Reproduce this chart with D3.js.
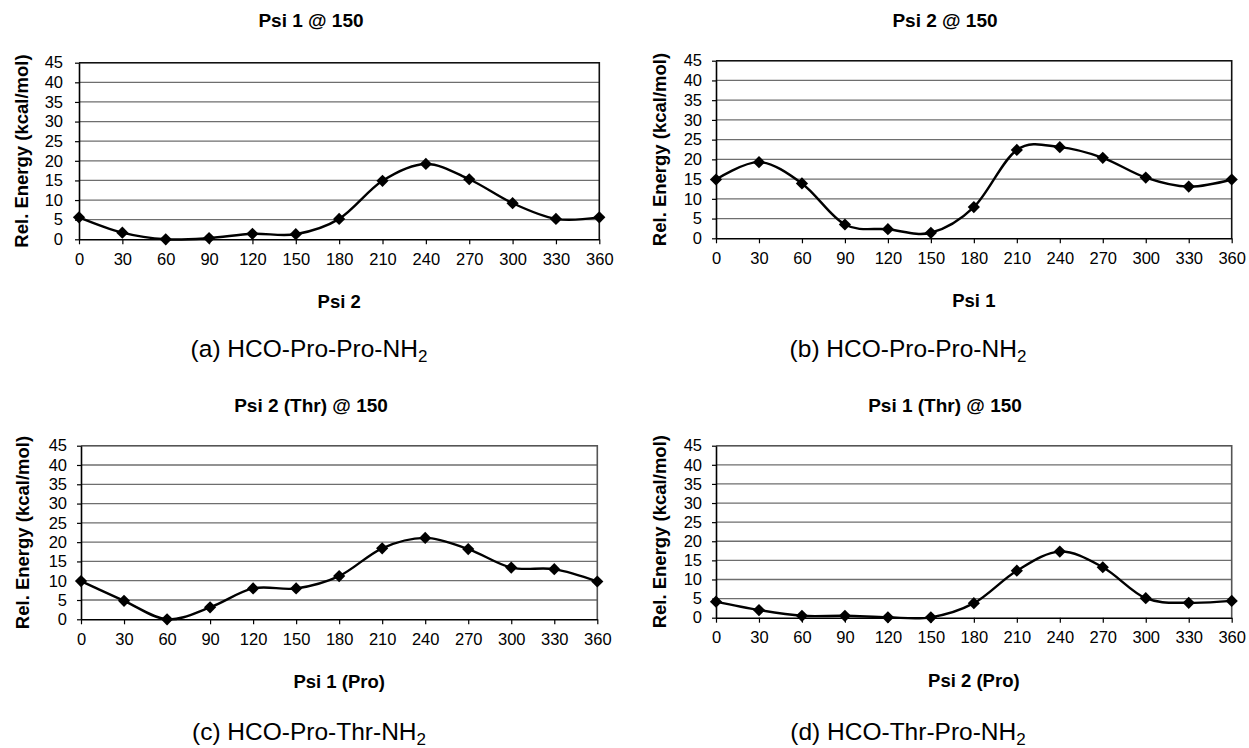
<!DOCTYPE html>
<html>
<head>
<meta charset="utf-8">
<script src="https://cdn.jsdelivr.net/npm/d3@7"></script>
<style>
  body { margin: 0; background: #fff; }
  svg { display: block; font-family: Arial, "Liberation Sans", Helvetica, sans-serif; }
  .tick-label { font-size: 16.5px; fill: #000; }
  .chart-title { font-size: 19px; font-weight: bold; }
  .axis-title { font-size: 18.5px; font-weight: bold; }
  .caption { font-size: 24.5px; }
</style>
</head>
<body>
<div id="chart"></div>
<script>
// torsion angle (deg) on x axis
var angles = [0, 30, 60, 90, 120, 150, 180, 210, 240, 270, 300, 330, 360];
var yTicks = [0, 5, 10, 15, 20, 25, 30, 35, 40, 45];

// relative energies (kcal/mol)
var energyA = [5.6, 1.7, 0, 0.3, 1.4, 1.3, 5.2, 14.9, 19.2, 15.3, 9.2, 5.2, 5.6];
var energyB = [14.9, 19.3, 13.9, 3.5, 2.3, 1.4, 7.9, 22.4, 23.1, 20.4, 15.4, 13.1, 14.9];
var energyC = [9.9, 4.8, 0, 3.1, 8.0, 8.0, 11.2, 18.4, 21.1, 18.2, 13.4, 13.0, 9.8];
var energyD = [4.2, 2.0, 0.5, 0.5, 0.1, 0.1, 3.8, 12.3, 17.3, 13.2, 5.1, 3.9, 4.4];

var titles = ["Psi 1 @ 150", "Psi 2 @ 150", "Psi 2 (Thr) @ 150", "Psi 1 (Thr) @ 150"];
var xTitles = ["Psi 2", "Psi 1", "Psi 1 (Pro)", "Psi 2 (Pro)"];
var captions = [
  ["(a) HCO-Pro-Pro-NH", "2"],
  ["(b) HCO-Pro-Pro-NH", "2"],
  ["(c) HCO-Pro-Thr-NH", "2"],
  ["(d) HCO-Thr-Pro-NH", "2"]
];
var yTitle = "Rel. Energy (kcal/mol)";

var width = 1249, height = 748;

// plot boxes + text anchors for each panel
var panels = [
  { data: energyA, left: 79, top: 62.7, right: 599.3, bottom: 239.3, titleX: 311, titleY: 27, yTitleX: 28, capX: 309, capY: 357, labGap: 16 },
  { data: energyB, left: 716, top: 60.7, right: 1231.7, bottom: 238.3, titleX: 945, titleY: 27, yTitleX: 666, capX: 908, capY: 357, labGap: 14 },
  { data: energyC, left: 81, top: 445.7, right: 597.3, bottom: 619.3, titleX: 311, titleY: 412, yTitleX: 29, capX: 309, capY: 740, labGap: 14 },
  { data: energyD, left: 716, top: 445.7, right: 1231.7, bottom: 617.7, titleX: 945, titleY: 412, yTitleX: 666, capX: 908, capY: 740, labGap: 14 }
];

var svg = d3.select("#chart").append("svg")
    .attr("width", width)
    .attr("height", height);

panels.forEach(function (p, k) {
  var x = d3.scaleLinear().domain([0, 360]).range([p.left, p.right]);
  var y = d3.scaleLinear().domain([0, 45]).range([p.bottom, p.top]);
  var g = svg.append("g").attr("class", "panel");

  // horizontal gridlines
  g.selectAll(".grid")
    .data(yTicks.slice(1))
    .enter().append("line")
    .attr("x1", p.left).attr("x2", p.right)
    .attr("y1", function (d) { return y(d); })
    .attr("y2", function (d) { return y(d); })
    .attr("stroke", "#6e6e6e")
    .attr("stroke-width", 1.3);

  // frame (top/right)
  g.append("path")
    .attr("d", "M" + p.left + "," + p.top + "H" + p.right + "V" + p.bottom)
    .attr("fill", "none")
    .attr("stroke", k < 2 ? "#111" : "#555")
    .attr("stroke-width", 1.6);

  // x axis
  var xAxis = d3.axisBottom(x).tickValues(angles).tickSize(5).tickSizeOuter(0).tickPadding(9);
  var gx = g.append("g").attr("transform", "translate(0," + p.bottom + ")").call(xAxis);
  gx.select(".domain").attr("stroke", "#000").attr("stroke-width", 1.6);
  gx.selectAll(".tick line").attr("stroke", "#000").attr("stroke-width", 1.2);
  gx.selectAll(".tick text").attr("class", "tick-label").attr("font-size", null).attr("font-family", null);

  // y axis
  var yAxis = d3.axisLeft(y).tickValues(yTicks).tickSize(4).tickSizeOuter(0).tickPadding(p.labGap - 4);
  var gy = g.append("g").attr("transform", "translate(" + p.left + ",0)").call(yAxis);
  gy.select(".domain").attr("stroke", "#000").attr("stroke-width", 1.6);
  gy.selectAll(".tick line").attr("stroke", "#000").attr("stroke-width", 1.2);
  gy.selectAll(".tick text").attr("class", "tick-label").attr("font-size", null).attr("font-family", null);
  gx.attr("fill", null); gy.attr("fill", null);

  // smoothed series line (uniform catmull-rom, like Excel smoothing)
  var line = d3.line()
    .x(function (d, i) { return x(angles[i]); })
    .y(function (d) { return y(d); })
    .curve(d3.curveCatmullRom.alpha(0));

  g.append("path")
    .datum(p.data)
    .attr("d", line)
    .attr("fill", "none")
    .attr("stroke", "#000")
    .attr("stroke-width", 2.4);

  // diamond markers
  g.selectAll(".pt")
    .data(p.data)
    .enter().append("path")
    .attr("class", "pt")
    .attr("d", d3.symbol().type(d3.symbolDiamond2).size(95))
    .attr("transform", function (d, i) { return "translate(" + x(angles[i]) + "," + y(d) + ")"; })
    .attr("fill", "#000");

  // titles
  g.append("text")
    .attr("class", "chart-title")
    .attr("x", p.titleX).attr("y", p.titleY)
    .attr("text-anchor", "middle")
    .text(titles[k]);

  g.append("text")
    .attr("class", "axis-title")
    .attr("x", (p.left + p.right) / 2).attr("y", p.bottom + 69)
    .attr("text-anchor", "middle")
    .text(xTitles[k]);

  g.append("text")
    .attr("class", "axis-title")
    .attr("transform", "translate(" + p.yTitleX + "," + (p.top + p.bottom) / 2 + ") rotate(-90)")
    .attr("text-anchor", "middle")
    .text(yTitle);

  var cap = g.append("text")
    .attr("class", "caption")
    .attr("x", p.capX).attr("y", p.capY)
    .attr("text-anchor", "middle");
  cap.append("tspan").text(captions[k][0]);
  cap.append("tspan").attr("dy", 5).attr("font-size", "17px").text(captions[k][1]);
});
</script>
</body>
</html>
